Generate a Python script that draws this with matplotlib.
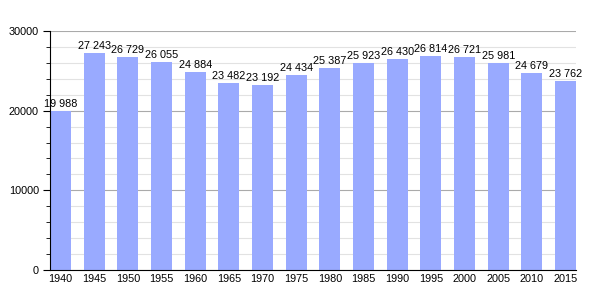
import numpy as np
import matplotlib
matplotlib.use('Agg')
import matplotlib.pyplot as plt
from matplotlib.ticker import MultipleLocator

years = [1940, 1945, 1950, 1955, 1960, 1965, 1970, 1975,
         1980, 1985, 1990, 1995, 2000, 2005, 2010, 2015]
population = [19988, 27243, 26729, 26055, 24884, 23482, 23192, 24434,
              25387, 25923, 26430, 26814, 26721, 25981, 24679, 23762]

plt.rcParams['font.family'] = ['Liberation Sans', 'DejaVu Sans']

fig = plt.figure(figsize=(6.05, 3.0), dpi=100)
ax = fig.add_axes([50 / 605, 30 / 300, 526 / 605, 239 / 300])

bar_w = 0.62
x = np.arange(len(years))
ax.bar(x, population, width=bar_w, align='edge', color='#99aaff', zorder=3)

# value labels with a space as thousands separator
for xi, v in zip(x, population):
    label = f"{v:,}".replace(',', ' ')
    ax.text(xi + bar_w / 2, v + 250, label, ha='center', va='bottom', fontsize=7.8, zorder=4)

ax.set_xlim(0, len(years) - 1 + bar_w)
ax.set_ylim(0, 30000)
ax.set_xticks(x + bar_w / 2)
ax.set_xticklabels([str(y) for y in years], fontsize=7.8)
ax.tick_params(axis='x', length=0, pad=3)

ax.yaxis.set_major_locator(MultipleLocator(10000))
ax.yaxis.set_minor_locator(MultipleLocator(2000))
ax.tick_params(axis='y', which='major', length=5, labelsize=7.8, pad=3)
ax.tick_params(axis='y', which='minor', length=3)

ax.grid(axis='y', which='major', color='#aaaaaa', lw=0.8, zorder=0)
ax.grid(axis='y', which='minor', color='#e2e2e2', lw=0.8, zorder=0)

for s in ['top', 'right']:
    ax.spines[s].set_visible(False)
ax.spines['left'].set_zorder(5)
ax.spines['bottom'].set_zorder(5)

plt.savefig('out.png', dpi=100)
